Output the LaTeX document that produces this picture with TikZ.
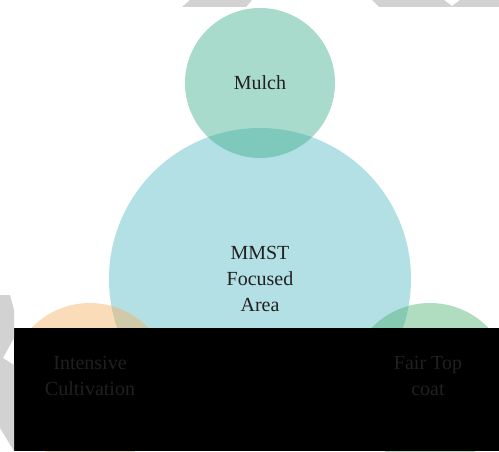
\documentclass[tikz,border=0pt]{standalone}
\usepackage{fontspec}
\setmainfont{Liberation Serif}
\usetikzlibrary{positioning}

\definecolor{areablue}{RGB}{179,224,228}
\definecolor{mulchgreen}{RGB}{62,175,139}
\definecolor{cultpeach}{RGB}{246,177,97}
\definecolor{coatgreen}{RGB}{79,177,115}
\definecolor{marktone}{RGB}{210,210,210}
\definecolor{inktone}{RGB}{35,31,32}
\definecolor{hidetone}{RGB}{32,32,32}

\begin{document}
\begin{tikzpicture}[x=1pt,y=1pt]
\tikzset{
  bubble/.style={circle, inner sep=0pt, align=center, text=inktone, font=\fontsize{20}{26}\selectfont},
  petal/.style={bubble, fill opacity=0.45, text opacity=1},
  hidden/.style={align=center, text=hidetone, font=\fontsize{20}{26}\selectfont}
}
\useasboundingbox (0,0) rectangle (499,451);

\node[bubble, fill=areablue, minimum size=302pt] (area) at (260,172) {MMST\\Focused\\Area};
\node[petal, fill=mulchgreen, minimum size=150pt] (mulch) at (260,368) {Mulch};
\node[petal, fill=cultpeach, minimum size=162pt] (cult) at (90,67) {};
\node[petal, fill=coatgreen, minimum size=162pt] (coat) at (430,67) {};

\fill[black] (14,0) rectangle (499,123);

\node[hidden] (cultlabel) at (90,75) {Intensive\\Cultivation};
\node[hidden] (coatlabel) at (428,75) {Fair Top\\coat};

% watermark bits
\fill[white] (0,0) rectangle (14,160);
\fill[marktone] (182,444) -- (190,451) -- (252,451) -- (246,444) -- cycle;
\fill[marktone] (372,451) -- (379,444) -- (499,444) -- (499,451) -- (460,451) -- (452,445) -- (444,451) -- cycle;
\fill[marktone] (0,156) -- (10,156) -- (14,141) -- (14,113) -- (3,93) -- (14,86) -- (14,0) -- (0,23) -- cycle;
\end{tikzpicture}
\end{document}
